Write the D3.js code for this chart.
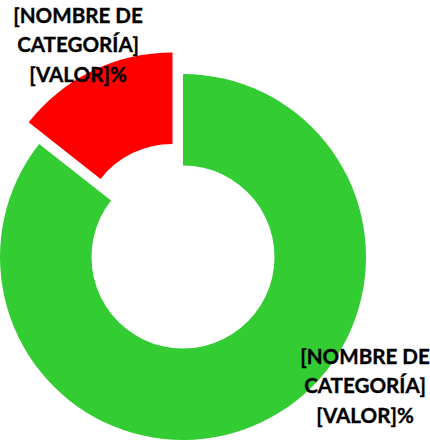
<!DOCTYPE html>
<html>
<head>
<meta charset="utf-8">
<script src="https://cdn.jsdelivr.net/npm/d3@7"></script>
<style>
  html, body { margin: 0; padding: 0; background: #fff; }
  svg { display: block; }
  .lbl { font-family: Lato, "Open Sans", sans-serif; font-weight: bold; font-size: 20.6px; fill: #000; stroke: #000; stroke-width: 0.35px; }
</style>
</head>
<body>
<svg id="chart"></svg>
<script>
// chart data
var categories = ["[NOMBRE DE CATEGORÍA]", "[NOMBRE DE CATEGORÍA]"];
var values = [85.6, 14.4];
var colors = ["#33cc33", "#ff0000"];
var labelLines = [["[NOMBRE DE", "CATEGORÍA]", "[VALOR]%"], ["[NOMBRE DE", "CATEGORÍA]", "[VALOR]%"]];

var width = 430, height = 440;
var cx = 183, cy = 257;
var outerR = 183, innerR = 91.5;
var explode = [0, 24];
// where excel dropped each data label (center of text block)
var labelPos = [[365, 388], [78, 47]];

var svg = d3.select("#chart")
    .attr("width", width)
    .attr("height", height);

var g = svg.append("g")
    .attr("transform", "translate(" + cx + "," + cy + ")");

var pie = d3.pie().sort(null).value(function (d) { return d; });
var arc = d3.arc().innerRadius(innerR).outerRadius(outerR);
var arcs = pie(values);

g.selectAll("path")
    .data(arcs)
    .enter()
    .append("path")
    .attr("d", arc)
    .attr("fill", function (d, i) { return colors[i]; })
    .attr("transform", function (d, i) {
        var mid = (d.startAngle + d.endAngle) / 2;
        var dx = Math.sin(mid) * explode[i];
        var dy = -Math.cos(mid) * explode[i];
        return "translate(" + dx + "," + dy + ")";
    });

var lineH = 29.5;
arcs.forEach(function (d, i) {
    var t = svg.append("text")
        .attr("class", "lbl")
        .attr("text-anchor", "middle")
        .attr("x", labelPos[i][0])
        .attr("y", labelPos[i][1] - lineH);
    labelLines[i].forEach(function (line, k) {
        t.append("tspan")
            .attr("x", labelPos[i][0])
            .attr("dy", k === 0 ? 0 : lineH)
            .attr("dominant-baseline", "middle")
            .text(line);
    });
});
</script>
</body>
</html>
